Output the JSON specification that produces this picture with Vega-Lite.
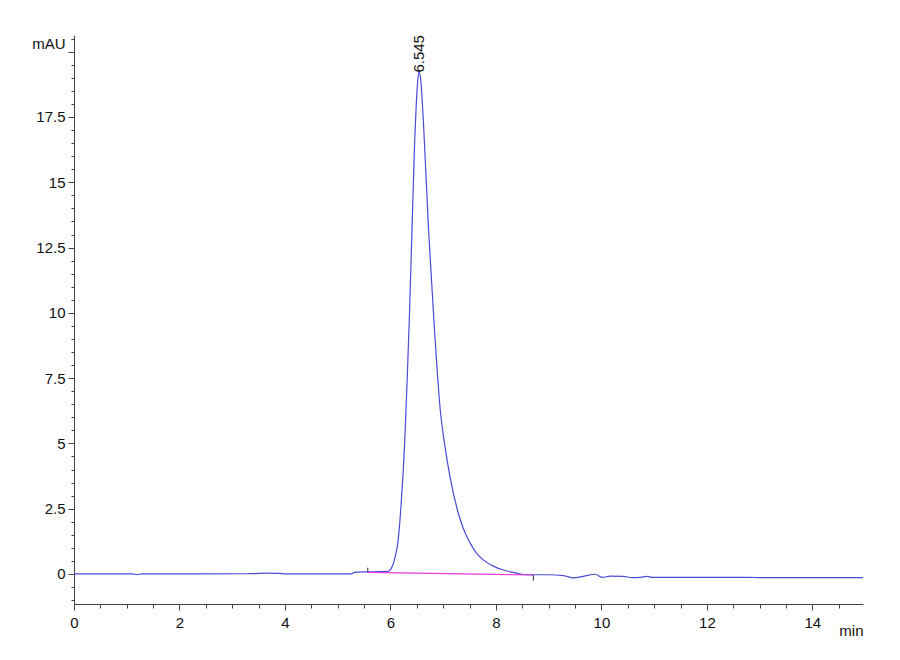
{
  "$schema": "https://vega.github.io/schema/vega-lite/v6.json",
  "width": 789,
  "height": 569,
  "autosize": {"type": "none"},
  "padding": {"left": 74, "top": 35, "right": 37, "bottom": 56},
  "background": "white",
  "config": {
    "view": {"stroke": null},
    "font": "Liberation Sans",
    "axis": {
      "labelFont": "Liberation Sans",
      "labelFontSize": 15,
      "labelColor": "#111",
      "labelFlush": false,
      "domainColor": "#444",
      "tickColor": "#444",
      "grid": false,
      "titleFont": "Liberation Sans",
      "titleFontSize": 15,
      "titleFontWeight": "normal",
      "titleColor": "#111"
    }
  },
  "datasets": {
    "signal": [
      {"t": 0, "v": 0}, {"t": 1.1, "v": 0}, {"t": 1.2, "v": -0.02}, {"t": 1.3, "v": 0},
      {"t": 3.4, "v": 0.01}, {"t": 3.6, "v": 0.03}, {"t": 3.9, "v": 0.02}, {"t": 4.0, "v": 0},
      {"t": 5.25, "v": 0}, {"t": 5.32, "v": 0.06}, {"t": 5.5, "v": 0.08}, {"t": 5.8, "v": 0.09},
      {"t": 5.95, "v": 0.1}, {"t": 6.0, "v": 0.17}, {"t": 6.03, "v": 0.27}, {"t": 6.07, "v": 0.5},
      {"t": 6.1, "v": 0.75}, {"t": 6.14, "v": 1.19}, {"t": 6.2, "v": 2.6}, {"t": 6.27, "v": 5.02},
      {"t": 6.32, "v": 7.6}, {"t": 6.36, "v": 9.9}, {"t": 6.41, "v": 13.29}, {"t": 6.46, "v": 16.6},
      {"t": 6.49, "v": 18.0}, {"t": 6.52, "v": 18.95}, {"t": 6.545, "v": 19.25}, {"t": 6.575, "v": 18.9},
      {"t": 6.63, "v": 17.12}, {"t": 6.72, "v": 13.29}, {"t": 6.82, "v": 9.84}, {"t": 6.945, "v": 6.28},
      {"t": 7.04, "v": 4.8}, {"t": 7.13, "v": 3.71}, {"t": 7.27, "v": 2.45}, {"t": 7.38, "v": 1.75},
      {"t": 7.51, "v": 1.19}, {"t": 7.63, "v": 0.8}, {"t": 7.76, "v": 0.54}, {"t": 7.95, "v": 0.3},
      {"t": 8.14, "v": 0.15}, {"t": 8.35, "v": 0.05}, {"t": 8.52, "v": -0.02}, {"t": 8.71, "v": -0.03},
      {"t": 9.0, "v": -0.03}, {"t": 9.28, "v": -0.06}, {"t": 9.47, "v": -0.15}, {"t": 9.66, "v": -0.09},
      {"t": 9.88, "v": -0.01}, {"t": 10.01, "v": -0.13}, {"t": 10.17, "v": -0.08}, {"t": 10.42, "v": -0.09},
      {"t": 10.58, "v": -0.14}, {"t": 10.74, "v": -0.13}, {"t": 10.86, "v": -0.09}, {"t": 10.96, "v": -0.13},
      {"t": 11.3, "v": -0.13}, {"t": 12.8, "v": -0.13}, {"t": 13.0, "v": -0.14}, {"t": 14.96, "v": -0.14}
    ],
    "baseline": [
      {"t": 5.57, "v": 0.06}, {"t": 8.71, "v": -0.04}
    ],
    "marks": [
      {"t": 5.57, "v1": 0.06, "v2": 0.24},
      {"t": 8.71, "v1": -0.04, "v2": -0.26}
    ],
    "peaks": [
      {"t": 6.545, "v": 19.2, "label": "6.545"}
    ]
  },
  "resolve": {"axis": {"x": "independent", "y": "independent"}},
  "layer": [
    {
      "data": {"name": "signal"},
      "mark": {"type": "line", "color": "#4b4bd6", "strokeWidth": 1.2, "interpolate": "monotone"},
      "encoding": {
        "x": {
          "field": "t", "type": "quantitative",
          "scale": {"domain": [0, 14.96], "nice": false, "zero": false},
          "axis": {
            "orient": "bottom",
            "values": [0, 2, 4, 6, 8, 10, 12, 14],
            "labelExpr": "format(datum.value, '~g')",
            "tickSize": 6, "labelPadding": 5,
            "title": "min", "titleX": 789, "titleY": 31, "titleAlign": "right", "titleBaseline": "alphabetic"
          }
        },
        "y": {
          "field": "v", "type": "quantitative",
          "scale": {"domain": [-1.15, 20.64], "nice": false, "zero": false},
          "axis": {
            "orient": "left",
            "values": [0, 2.5, 5, 7.5, 10, 12.5, 15, 17.5, 20],
            "labelExpr": "datum.value == 20 ? 'mAU' : format(datum.value, '~g')",
            "labelBaseline": {"condition": {"test": "datum.value == 20", "value": "bottom"}, "value": "middle"},
            "tickSize": 6, "labelPadding": 3,
            "title": null
          }
        }
      }
    },
    {
      "data": {"name": "baseline"},
      "mark": {"type": "line", "color": "#e23ce2", "strokeWidth": 1.2},
      "encoding": {
        "x": {
          "field": "t", "type": "quantitative",
          "scale": {"domain": [0, 14.96], "nice": false, "zero": false},
          "axis": {
            "orient": "bottom",
            "values": [0.5, 1, 1.5, 2.5, 3, 3.5, 4.5, 5, 5.5, 6.5, 7, 7.5, 8.5, 9, 9.5, 10.5, 11, 11.5, 12.5, 13, 13.5, 14.5],
            "labels": false, "domain": false, "tickSize": 4, "title": null
          }
        },
        "y": {
          "field": "v", "type": "quantitative",
          "scale": {"domain": [-1.15, 20.64], "nice": false, "zero": false},
          "axis": {
            "orient": "left",
            "values": [-1, -0.5, 0.5, 1, 1.5, 2, 3, 3.5, 4, 4.5, 5.5, 6, 6.5, 7, 8, 8.5, 9, 9.5, 10.5, 11, 11.5, 12, 13, 13.5, 14, 14.5, 15.5, 16, 16.5, 17, 18, 18.5, 19, 19.5, 20.5],
            "labels": false, "domain": false, "tickSize": 3, "title": null
          }
        }
      }
    },
    {
      "data": {"name": "marks"},
      "mark": {"type": "rule", "color": "#333", "strokeWidth": 1},
      "encoding": {
        "x": {"field": "t", "type": "quantitative", "scale": {"domain": [0, 14.96], "nice": false, "zero": false}, "axis": null},
        "y": {"field": "v1", "type": "quantitative", "scale": {"domain": [-1.15, 20.64], "nice": false, "zero": false}, "axis": null},
        "y2": {"field": "v2"}
      }
    },
    {
      "data": {"name": "peaks"},
      "mark": {"type": "text", "angle": 270, "align": "left", "baseline": "middle", "fontSize": 15, "color": "#111", "font": "Liberation Sans"},
      "encoding": {
        "x": {"field": "t", "type": "quantitative", "scale": {"domain": [0, 14.96], "nice": false, "zero": false}, "axis": null},
        "y": {"field": "v", "type": "quantitative", "scale": {"domain": [-1.15, 20.64], "nice": false, "zero": false}, "axis": null},
        "text": {"field": "label"}
      }
    }
  ]
}
